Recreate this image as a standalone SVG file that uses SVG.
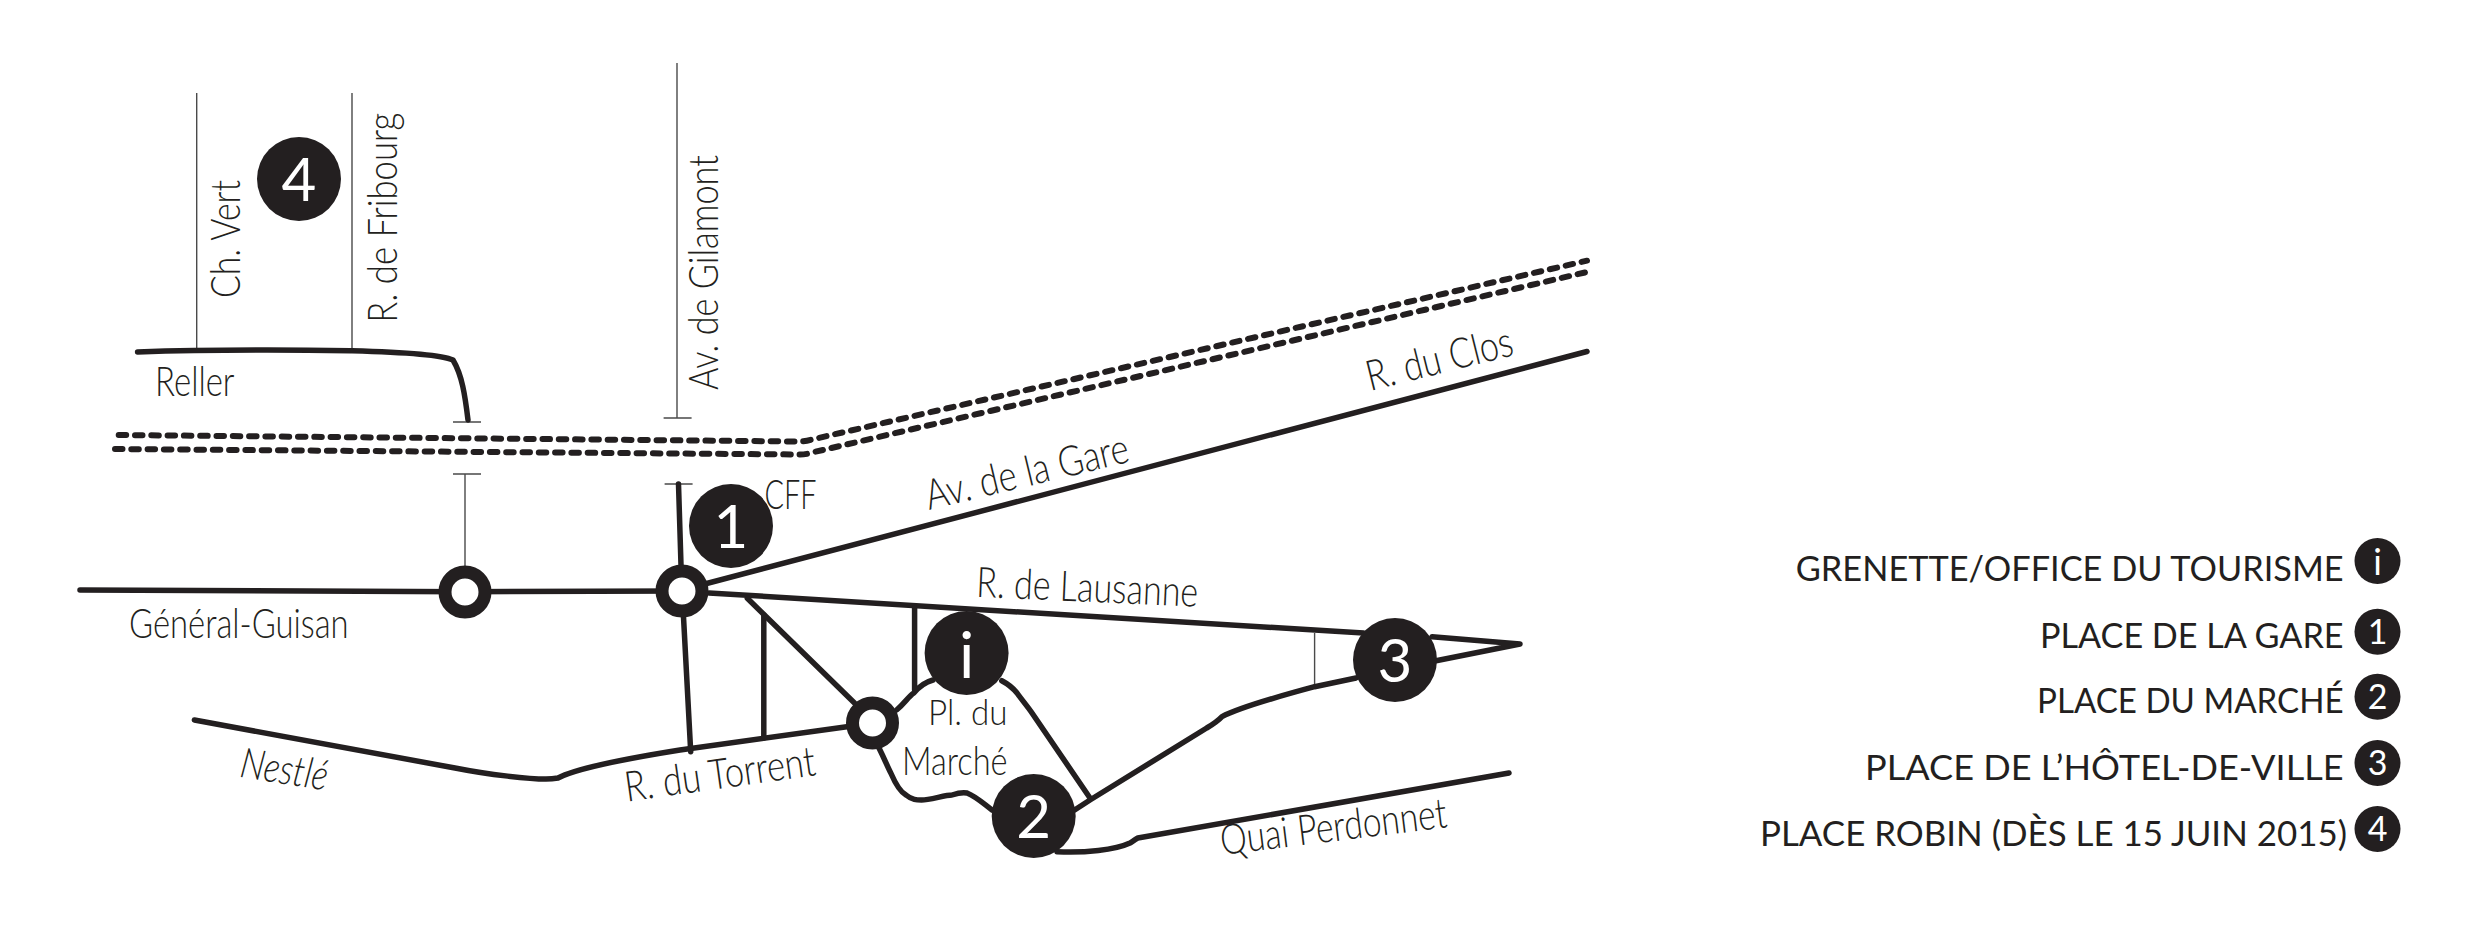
<svg xmlns="http://www.w3.org/2000/svg" width="2481" height="934" viewBox="0 0 2481 934">
<style>
.road{fill:none;stroke:#231f20;stroke-width:5.5;stroke-linecap:round;stroke-linejoin:round}
.thin{fill:none;stroke:#4a4a4a;stroke-width:1.4}
.rail{fill:none;stroke:#231f20;stroke-width:6;stroke-dasharray:7.5 8.8;stroke-linecap:round;stroke-linejoin:round}
.ring{fill:#fff;stroke:#231f20;stroke-width:13}
.disc{fill:#231f20}
.num{font-family:"Lato","Liberation Sans",sans-serif;font-weight:400;fill:#fff;text-anchor:middle}
.lab{font-family:"Lato","Liberation Sans",sans-serif;font-weight:300;font-size:42px;fill:#231f20}
.leg{font-family:"Lato","Liberation Sans",sans-serif;font-weight:400;font-size:35px;fill:#231f20}
</style>
<rect width="2481" height="934" fill="#fff"/>
<g id="connectors">
<path class="thin" d="M196.7 93V350M352 93V349M677 63V418M663.6 418H691.6M453 422H481M465 474V570M453 474H481M664.6 484H692.6M1314.6 633V687"/>
<path class="rail" d="M118.7 435L800 441.5Q806 441.5 812 439.5L1587 260.7"/>
<path class="rail" d="M115 449L800 454.5Q806 454.5 812 452.5L1587 272"/>
<path class="road" d="M137.6 352C230 349 300 350 352 350.7C400 352 440 354 453 360C462 375 465 395 468 420"/>
<path class="road" d="M678.5 484L681 565"/>
<path class="road" d="M80 590L465 591.7L682 591"/>
<path class="road" d="M682 590L1587 351.5"/>
<path class="road" d="M709 593L1363.6 633M1432 636.7L1520 644L1436 660.7"/>
<path class="road" d="M683.4 615L690.7 751.7"/>
<path class="road" d="M763.8 615V738"/>
<path class="road" d="M747.3 598.3L854.5 703"/>
<path class="road" d="M914.6 608V690"/>
<path class="road" d="M194.4 720L455 768C490 775 530 779 546 779Q552 779 558 778C575 769 630 758 680 750L846.8 726.7"/>
<path class="road" d="M896.6 710C905 703 908 697 913.8 693Q922 683 933 680"/>
<path class="road" d="M879 748C885 760 888 768 890.8 773C896 785 902 793 906 795C912 800 917 800 921.5 800C930 800 945 795 952 795C958 793 962 792 967 793C977 797 985 805 992 810"/>
<path class="road" d="M1001.8 680.7C1008 684 1013 688 1017 693C1022 700 1028 707 1032 713L1090 798"/>
<path class="road" d="M1356 678L1314.6 686.7C1280 696 1240 707 1222 716.7C1217 722 1212 725 1206.7 728L1090 800L1074.6 810"/>
<path class="road" d="M1509 773L1137.8 838C1134 840 1132 842 1130 843C1115 850 1085 853 1057 851.7"/>
</g>
<g id="junction-guisan"><circle class="ring" cx="465" cy="592" r="20"/></g>
<g id="junction-gare"><circle class="ring" cx="682" cy="591" r="20"/></g>
<g id="junction-marche"><circle class="ring" cx="872.5" cy="723" r="20"/></g>
<g id="node-4"><circle class="disc" cx="299" cy="179" r="42"/><text class="num" x="299" y="201" font-size="60">4</text></g>
<g id="node-1"><circle class="disc" cx="731" cy="526" r="42"/><text class="num" x="731" y="548" font-size="60">1</text></g>
<g id="node-i"><circle class="disc" cx="966.6" cy="653" r="42"/><text class="num" x="966.6" y="678" font-size="64">i</text></g>
<g id="node-2"><circle class="disc" cx="1033.7" cy="816" r="42"/><text class="num" x="1033.7" y="838" font-size="60">2</text></g>
<g id="node-3"><circle class="disc" cx="1395" cy="660" r="42"/><text class="num" x="1395" y="682" font-size="60">3</text></g>
<g id="labels">
<text class="lab" transform="translate(240 298) rotate(-90)" textLength="118" lengthAdjust="spacingAndGlyphs">Ch. Vert</text>
<text class="lab" transform="translate(396.7 322.7) rotate(-90)" textLength="210" lengthAdjust="spacingAndGlyphs">R. de Fribourg</text>
<text class="lab" transform="translate(718 390) rotate(-90)" textLength="235" lengthAdjust="spacingAndGlyphs">Av. de Gilamont</text>
<text class="lab" x="155" y="396" textLength="79.5" lengthAdjust="spacingAndGlyphs">Reller</text>
<text class="lab" x="764.6" y="509" textLength="52" lengthAdjust="spacingAndGlyphs">CFF</text>
<text class="lab" transform="translate(929 510) rotate(-13.5)" textLength="208" lengthAdjust="spacingAndGlyphs">Av. de la Gare</text>
<text class="lab" transform="translate(1370 391) rotate(-14)" textLength="150" lengthAdjust="spacingAndGlyphs">R. du Clos</text>
<text class="lab" transform="translate(975.8 596.7) rotate(2.6)" textLength="222" lengthAdjust="spacingAndGlyphs">R. de Lausanne</text>
<text class="lab" transform="translate(626.8 801.7) rotate(-8)" textLength="192" lengthAdjust="spacingAndGlyphs">R. du Torrent</text>
<text class="lab" x="928" y="725" font-size="36" style="font-size:36px" textLength="79.6" lengthAdjust="spacingAndGlyphs">Pl. du</text>
<text class="lab" x="902" y="775" style="font-size:40px" textLength="105.6" lengthAdjust="spacingAndGlyphs">Marché</text>
<text class="lab" transform="translate(1222 855) rotate(-7)" textLength="228" lengthAdjust="spacingAndGlyphs">Quai Perdonnet</text>
<text class="lab" x="129" y="638" textLength="219.6" lengthAdjust="spacingAndGlyphs">Général-Guisan</text>
<text class="lab" transform="translate(238.7 776.7) rotate(9)" font-style="italic" textLength="88" lengthAdjust="spacingAndGlyphs">Nestlé</text>
</g>
<g id="legend">
<text class="leg" x="1795.8" y="581" textLength="547.8" lengthAdjust="spacingAndGlyphs">GRENETTE/OFFICE DU TOURISME</text>
<text class="leg" x="2040" y="647.7" textLength="303.6" lengthAdjust="spacingAndGlyphs">PLACE DE LA GARE</text>
<text class="leg" x="2037" y="713" textLength="306.6" lengthAdjust="spacingAndGlyphs">PLACE DU MARCHÉ</text>
<text class="leg" x="1865" y="780" textLength="478.6" lengthAdjust="spacingAndGlyphs">PLACE DE L’HÔTEL-DE-VILLE</text>
<text class="leg" x="1760" y="845.7" textLength="587" lengthAdjust="spacingAndGlyphs">PLACE ROBIN (DÈS LE 15 JUIN 2015)</text>
</g>
<g id="legend-i"><circle class="disc" cx="2377.5" cy="561" r="23"/><text class="num" x="2377.5" y="575" font-size="36">i</text></g>
<g id="legend-1"><circle class="disc" cx="2377.5" cy="631.7" r="23"/><text class="num" x="2377.5" y="644" font-size="34">1</text></g>
<g id="legend-2"><circle class="disc" cx="2377.5" cy="696.7" r="23"/><text class="num" x="2377.5" y="709" font-size="34">2</text></g>
<g id="legend-3"><circle class="disc" cx="2377.5" cy="763" r="23"/><text class="num" x="2377.5" y="775" font-size="34">3</text></g>
<g id="legend-4"><circle class="disc" cx="2377.5" cy="829" r="23"/><text class="num" x="2377.5" y="841" font-size="34">4</text></g>
</svg>
